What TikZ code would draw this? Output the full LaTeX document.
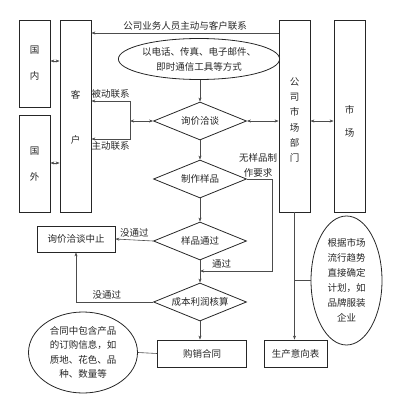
\documentclass[tikz,border=0pt]{standalone}
\usepackage{fontspec}
\newfontfamily\cjk{Noto Sans CJK SC}
\usetikzlibrary{shapes.geometric,arrows.meta}

\begin{document}
\begin{tikzpicture}[x=1pt, y=-1pt,
    every node/.style={font=\cjk\fontsize{9.5}{15}\selectfont, text=black!85},
    box/.style={draw=black!85, line width=0.8pt, inner sep=0pt},
    choice/.style={draw=black!85, diamond, line width=0.8pt, inner sep=0pt,
        minimum width=93pt, minimum height=38pt, aspect=2.45},
    bubble/.style={draw=black!85, ellipse, line width=0.8pt, inner sep=0pt, align=center},
    link/.style={-{Stealth[length=4pt,width=3pt]}, black!70, line width=0.6pt},
    both/.style={{Stealth[length=4pt,width=3pt]}-{Stealth[length=4pt,width=3pt]}, black!70, line width=0.6pt},
    plain/.style={black!70, line width=0.6pt}]
    \useasboundingbox (0,0) rectangle (400,412);

    % tall boxes
    \node[box, minimum width=31pt, minimum height=87pt] (guonei) at (34.5,63.5) {};
    \node[box, minimum width=31pt, minimum height=97pt] (guowai) at (34.5,163.5) {};
    \node[box, minimum width=31pt, minimum height=192pt] (kehu) at (75.5,116) {};
    \node[box, minimum width=31pt, minimum height=192pt] (bumen) at (294.5,116) {};
    \node[box, minimum width=31pt, minimum height=192pt] (shichang) at (349.5,116) {};
    \node[align=center, font=\cjk\fontsize{9.5}{26}\selectfont] (guoneitext) at (34.5,63) {国\\内};
    \node[align=center, font=\cjk\fontsize{9.5}{26}\selectfont] (guowaitext) at (34.5,164) {国\\外};
    \node[align=center, font=\cjk\fontsize{9.5}{45}\selectfont] (kehutext) at (75.5,117.5) {客\\户};
    \node[align=center, font=\cjk\fontsize{9.5}{15.3}\selectfont] (bumentext) at (294.5,120) {公\\司\\市\\场\\部\\门};
    \node[align=center, font=\cjk\fontsize{9.5}{23}\selectfont] (shichangtext) at (349.5,121.5) {市\\场};

    % flow
    \node[bubble, minimum width=158pt, minimum height=41pt] (fangshi) at (199,59)
        {以电话、传真、电子邮件、\\即时通信工具等方式};
    \node[choice] (xunjia) at (200,121) {询价洽谈};
    \node[choice] (zhizuo) at (200,179) {制作样品};
    \node[choice] (yangpin) at (200,241) {样品通过};
    \node[choice] (chengben) at (200,302) {成本利润核算};
    \node[box, minimum width=78pt, minimum height=26pt] (zhongzhi) at (76,239) {询价洽谈中止};
    \node[box, minimum width=89pt, minimum height=27pt] (hetong) at (202,353.5) {购销合同};
    \node[box, minimum width=63pt, minimum height=27pt] (shengchan) at (295.5,353.5) {生产意向表};
    \node[bubble, minimum width=109pt, minimum height=81pt, font=\cjk\fontsize{9.5}{14.5}\selectfont] (neirong) at (83,352.5)
        {合同中包含产品\\的订购信息，如\\质地、花色、品\\种、数量等};
    \node[bubble, minimum width=71pt, minimum height=129pt] (qushi) at (346.5,280.5)
        {根据市场\\流行趋势\\直接确定\\计划，如\\品牌服装\\企业};

    \coordinate (toprow) at (0,33);
    \coordinate (fork) at (130,121);
    \coordinate (beidong) at (130,101);
    \coordinate (zhudong) at (130,139);
    \coordinate (bypass) at (272,271);

    % connectors
    \draw[both] (guonei.east |- 0,61) -- (kehu.west |- 0,61);
    \draw[both] (guowai.east |- 0,163) -- (kehu.west |- 0,163);
    \draw[link] (bumen.west |- toprow) -- (kehu.east |- toprow)
        node[midway, above, yshift=-1pt] {公司业务人员主动与客户联系};
    \draw[link] (fangshi.south -| xunjia.north) -- (xunjia.north);
    \draw[both] (fork) -- (xunjia.west);
    \draw[link] (fork) -- (beidong) -- (beidong -| kehu.east) node[midway, above, yshift=-1pt] {被动联系};
    \draw[link] (fork) -- (zhudong) -- (zhudong -| kehu.east) node[midway, below, yshift=1pt] {主动联系};
    \draw[both] (xunjia.east) -- (xunjia.east -| bumen.west);
    \draw[both] (bumen.east |- xunjia) -- (shichang.west |- xunjia);
    \draw[link] (xunjia.south) -- (zhizuo.north);
    \draw[link] (zhizuo.south) -- (yangpin.north);
    \draw[link] (zhizuo.east) -| (bypass) -- (bypass -| yangpin.south)
        node[pos=0.7, above, yshift=-1pt] {通过};
    \node[align=center] (wuyangpin) at (258,165.5) {无样品制\\作要求};
    \draw[link] (yangpin.west) -- (zhongzhi.east) node[midway, above, yshift=-1pt] {没通过};
    \draw[link] (yangpin.south) -- (chengben.north);
    \draw[link] (chengben.west) -| (zhongzhi.south) node[pos=0.3, above, yshift=-1pt] {没通过};
    \draw[link] (chengben.south) -- (chengben.south |- hetong.north);
    \draw[plain] (neirong.east) -- (hetong.west);
    \draw[link] (bumen.south) -- (bumen.south |- shengchan.north);
    \draw[plain] (qushi.west) -- (bumen.south |- qushi.west);

\end{tikzpicture}
\end{document}
